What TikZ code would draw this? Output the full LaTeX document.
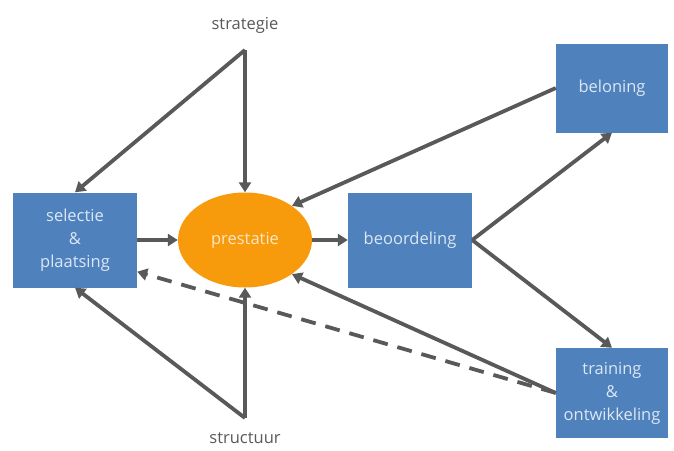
\documentclass[tikz,border=0pt]{standalone}
\usepackage{fontspec}
\setmainfont{Open Sans}
\usetikzlibrary{arrows.meta,shapes.geometric}
\definecolor{boxblue}{HTML}{4F81BD}
\definecolor{boxtext}{HTML}{DCE7F4}
\definecolor{presorange}{HTML}{F79A0C}
\definecolor{prestext}{HTML}{FDE6C2}
\definecolor{arrowgray}{HTML}{595959}
\begin{document}
\begin{tikzpicture}[x=1pt, y=-1pt, font=\fontsize{16.5}{23}\selectfont,
    box/.style={fill=boxblue, text=boxtext, align=center, inner sep=0pt,
      minimum width=124pt, minimum height=95pt},
    arr/.style={draw=arrowgray, line width=3.8pt,
      -{Triangle[length=10pt, width=12pt]}}]
      % \draw[step=50, gray, very thin] (0, 0) grid (674, 450);
      \useasboundingbox (0, 0) rectangle (674, 450);

      \node[text=arrowgray] (strategie) at (245, 25) {strategie};
      \node[text=arrowgray] (structuur) at (245, 438) {structuur};
      \coordinate (top) at (245, 50);
      \coordinate (bottom) at (245, 418);

      \node[box] (selectie) at (75, 240) {selectie\\\&\\plaatsing};
      \node[ellipse, fill=presorange, text=prestext, minimum width=134pt,
        minimum height=95pt, inner sep=0pt] (prestatie) at (245, 240) {prestatie};
      \node[box] (beoordeling) at (410, 240) {beoordeling};
      \node[box, minimum width=112pt, minimum height=89pt] (beloning) at (612, 88) {beloning};
      \node[box, minimum width=112pt, minimum height=90pt] (training) at (612, 393)
        {training\\\&\\ontwikkeling};

      \draw[arr] (top) -- (selectie.north);
      \draw[arr] (top) -- (prestatie.north);
      \draw[arr] (bottom) -- (selectie.south);
      \draw[arr] (bottom) -- (prestatie.south);

      \draw[arr] (selectie.east) -- (prestatie.west);
      \draw[arr] (prestatie.east) -- (beoordeling.west);
      \draw[arr] (beoordeling.east) -- (beloning.south);
      \draw[arr] (beoordeling.east) -- (training.north);
      \draw[arr] (beloning.west) -- (prestatie.36);
      \draw[arr] (training.west) -- (prestatie.-36);
      \draw[arr, dash pattern=on 15pt off 10pt] (training.west) -- (selectie.-27);
    \end{tikzpicture}
\end{document}
